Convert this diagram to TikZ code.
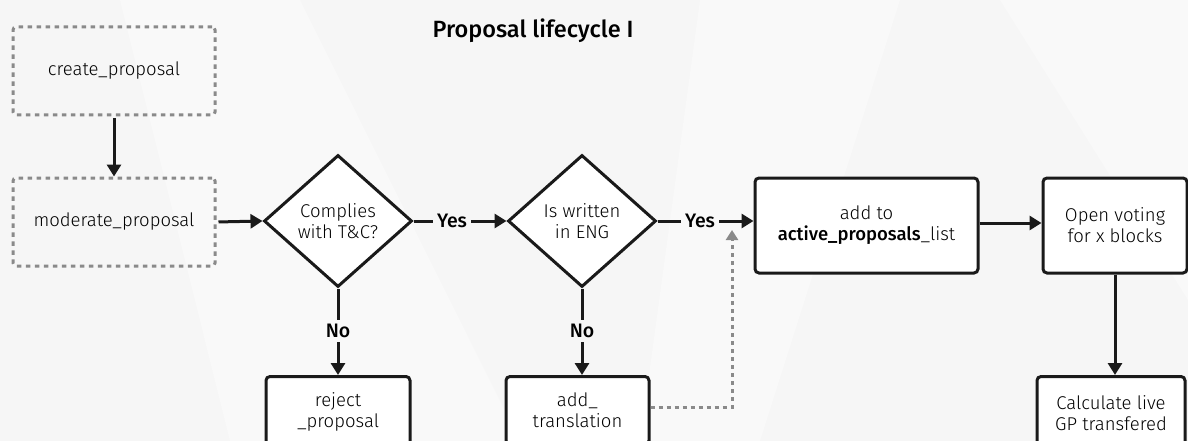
\documentclass[tikz,border=0pt]{standalone}
\usepackage{fontspec}
\setmainfont{Fira Sans}[UprightFont=* Light, BoldFont=* Medium]
\usetikzlibrary{shapes.geometric,arrows.meta}
\definecolor{bg}{HTML}{F6F6F6}
\definecolor{bgl}{HTML}{F9F9F9}
\definecolor{ink}{HTML}{1A1A1A}
\definecolor{dgray}{HTML}{8A8A8A}
\tikzset{
  dbox/.style={draw=dgray, line width=3pt, dash pattern=on 4.5pt off 4.5pt, rounded corners=3pt, minimum width=202pt, minimum height=88pt, font=\fontsize{18.5}{21}\selectfont, align=center},
  sbox/.style={draw=ink, fill=white, line width=3pt, rounded corners=4pt, font=\fontsize{18.5}{21}\selectfont, align=center, inner sep=2pt},
  dec/.style={diamond, draw=ink, fill=white, line width=3pt, minimum width=148pt, minimum height=132pt, inner sep=0pt, font=\fontsize{18.5}{21}\selectfont, align=center},
  lbl/.style={font=\bfseries\fontsize{19.5}{22}\selectfont, inner sep=4pt},
  conn/.style={draw=ink, line width=3pt},
  arr/.style={conn, -{Triangle[length=12pt,width=14pt]}},
  darr/.style={draw=dgray, line width=3pt, dash pattern=on 4pt off 4pt, -{Triangle[length=10pt,width=12pt]}},
}
\begin{document}
\begin{tikzpicture}[x=1pt,y=-1pt]
\useasboundingbox (0,0) rectangle (1188,441);
\fill[bg] (0,0) rectangle (1188,441);
\fill[bgl] (120,0) -- (300,0) -- (520,441) -- (230,441) -- cycle;
\fill[bgl] (700,0) -- (900,0) -- (760,441) -- (640,441) -- cycle;
\fill[bgl] (1000,0) -- (1188,0) -- (1188,300) -- cycle;
\clip (0,0) rectangle (1188,441);

\node[font=\bfseries\fontsize{23.5}{28}\selectfont] (title) at (533,31) {Proposal lifecycle I};

\node[dbox] (create) at (114,71) {create\_proposal};
\node[dbox] (moderate) at (114,222) {moderate\_proposal};
\node[dec] (d1) at (338,221) {Complies\\with T\&C?};
\node[dec] (d2) at (582,221) {Is written\\in ENG};
\node[sbox, minimum width=223pt, minimum height=95pt] (active) at (866.5,225.5) {add to\\\textbf{active\_proposals}\_list};
\node[sbox, minimum width=144pt, minimum height=95pt] (open) at (1115,225.5) {Open voting\\for x blocks};
\node[sbox, minimum width=148pt, minimum height=74pt, anchor=north] (calc) at (1111,375) {Calculate live\\GP transfered};
\node[sbox, minimum width=144pt, minimum height=70pt, anchor=north] (reject) at (338,375) {reject\\\_proposal};
\node[sbox, minimum width=143pt, minimum height=68pt, anchor=north] (trans) at (577.5,375) {add\_\\translation};

\node[lbl] (yes1) at (452,221) {Yes};
\node[lbl] (yes2) at (700,221) {Yes};
\node[lbl] (no1) at (338,331) {No};
\node[lbl] (no2) at (582,331) {No};
\coordinate (tj) at (732,230);

\draw[arr, shorten <=2pt] (create.south) -- (moderate.north);
\draw[arr, shorten <=2pt] (moderate.east) -- (d1.west);
\draw[conn] (d1.east) -- (yes1.west);
\draw[arr] (yes1.east) -- (d2.west);
\draw[conn] (d2.east) -- (yes2.west);
\draw[arr] (yes2.east) -- (yes2.east -| active.west);
\draw[arr] (active.east |- 0,223) -- (open.west |- 0,223);
\draw[arr] (open.south) -- (open.south |- calc.north);
\draw[conn] (d1.south) -- (no1.north);
\draw[arr] (no1.south) -- (no1.south |- reject.north);
\draw[conn] (d2.south) -- (no2.north);
\draw[arr] (no2.south) -- (no2.south |- trans.north);
\draw[darr] (trans.east |- 0,407) -| (tj);
\end{tikzpicture}
\end{document}
